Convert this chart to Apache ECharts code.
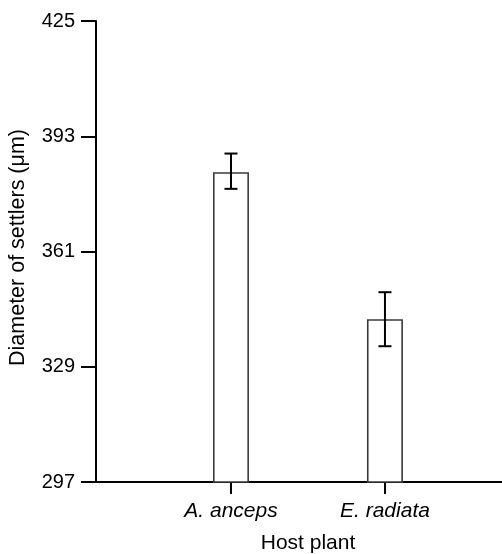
<!DOCTYPE html>
<html>
<head>
<meta charset="utf-8">
<script src="https://cdn.jsdelivr.net/npm/echarts@6/dist/echarts.min.js"></script>
<style>
  html, body { margin: 0; padding: 0; background: #fff; }
  #main { width: 502px; height: 554px; }
</style>
</head>
<body>
<div id="main"></div>
<script>
var categories = ['A. anceps', 'E. radiata'];
var catPos = [1, 2];
var means = [383.0, 342.2];
var errLow = [378.4, 334.7];
var errHigh = [388.2, 349.7];
var yTicks = [297, 329, 361, 393, 425];

var chart = echarts.init(document.getElementById('main'));

var barData = [];
var errData = [];
for (var i = 0; i < categories.length; i++) {
    barData.push([catPos[i], means[i]]);
    errData.push([catPos[i], errLow[i], errHigh[i]]);
}

var font = 'Liberation Sans, Arial, sans-serif';

var option = {
    animation: false,
    backgroundColor: '#fff',
    grid: { left: 96, right: -18, top: 21, bottom: 72, containLabel: false, outerBoundsMode: 'none' },
    xAxis: {
        type: 'value',
        min: 0.1234,
        max: 2.877,
        name: 'Host plant',
        nameLocation: 'middle',
        nameGap: 51,
        nameTextStyle: { fontFamily: font, fontSize: 21, color: '#000' },
        splitLine: { show: false },
        axisLine: { onZero: false, lineStyle: { color: '#000', width: 2 } },
        axisTick: { show: true, customValues: catPos, length: 12, lineStyle: { color: '#000', width: 2 } },
        axisLabel: {
            customValues: catPos,
            margin: 19,
            fontFamily: font,
            fontSize: 21,
            fontStyle: 'italic',
            color: '#000',
            formatter: function (v) { return categories[Math.round(v) - 1] || ''; }
        }
    },
    yAxis: {
        type: 'value',
        min: 297,
        max: 425,
        name: 'Diameter of settlers (μm)',
        nameLocation: 'middle',
        nameGap: 67,
        nameTextStyle: { fontFamily: font, fontSize: 21.5, color: '#000', padding: [0, 0, 0, 8] },
        splitLine: { show: false },
        axisLine: { show: true, lineStyle: { color: '#000', width: 2 } },
        axisTick: { show: true, customValues: yTicks, length: 15, lineStyle: { color: '#000', width: 2 } },
        axisLabel: {
            customValues: yTicks,
            margin: 21,
            fontFamily: font,
            fontSize: 20,
            color: '#000'
        }
    },
    series: [
        {
            type: 'bar',
            data: barData,
            barWidth: 36,
            itemStyle: { color: '#fff', borderColor: '#3a3a3a', borderWidth: 1.6 }
        },
        {
            type: 'custom',
            data: errData,
            z: 10,
            renderItem: function (params, api) {
                var x = api.value(0);
                var lo = api.coord([x, api.value(1)]);
                var hi = api.coord([x, api.value(2)]);
                var half = 6.5;
                var style = { stroke: '#000', lineWidth: 2 };
                return {
                    type: 'group',
                    children: [
                        { type: 'line', shape: { x1: hi[0], y1: hi[1], x2: lo[0], y2: lo[1] }, style: style },
                        { type: 'line', shape: { x1: hi[0] - half, y1: hi[1], x2: hi[0] + half, y2: hi[1] }, style: style },
                        { type: 'line', shape: { x1: lo[0] - half, y1: lo[1], x2: lo[0] + half, y2: lo[1] }, style: style }
                    ]
                };
            }
        }
    ]
};

chart.setOption(option);
</script>
</body>
</html>
